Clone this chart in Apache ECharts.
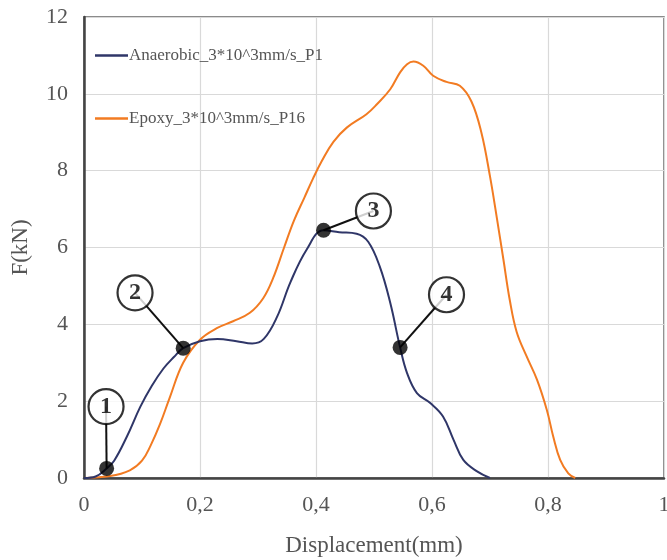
<!DOCTYPE html>
<html>
<head>
<meta charset="utf-8">
<script src="https://cdn.jsdelivr.net/npm/echarts@6/dist/echarts.min.js"></script>
<style>html,body{margin:0;padding:0;background:#fff;}#c{width:667px;height:560px;}</style>
</head>
<body>
<div id="c"></div>
<script>
const seriesNames = ['Anaerobic_3*10^3mm/s_P1', 'Epoxy_3*10^3mm/s_P16'];
const anaerobic = [[0,0],[0.02,0.04],[0.039,0.25],[0.052,0.45],[0.074,1.08],[0.097,1.85],[0.117,2.4],[0.137,2.85],[0.155,3.15],[0.171,3.38],[0.2,3.56],[0.23,3.62],[0.263,3.56],[0.29,3.5],[0.31,3.62],[0.333,4.2],[0.356,5.1],[0.384,5.95],[0.413,6.45],[0.44,6.4],[0.47,6.36],[0.49,6.15],[0.51,5.5],[0.528,4.56],[0.545,3.4],[0.557,2.73],[0.574,2.21],[0.597,1.95],[0.619,1.6],[0.637,1.0],[0.654,0.47],[0.677,0.18],[0.7,0.0]];
const epoxy = [[0,0],[0.045,0.05],[0.079,0.2],[0.1,0.45],[0.115,0.85],[0.131,1.4],[0.148,2.1],[0.171,3.0],[0.2,3.6],[0.229,3.9],[0.257,4.08],[0.286,4.3],[0.309,4.68],[0.326,5.2],[0.345,6.0],[0.362,6.7],[0.38,7.3],[0.395,7.8],[0.41,8.25],[0.43,8.75],[0.453,9.12],[0.487,9.47],[0.505,9.73],[0.528,10.12],[0.545,10.56],[0.557,10.77],[0.568,10.84],[0.585,10.73],[0.602,10.47],[0.625,10.31],[0.648,10.21],[0.668,9.8],[0.685,9.0],[0.7,7.85],[0.712,6.75],[0.723,5.7],[0.734,4.64],[0.746,3.8],[0.763,3.17],[0.781,2.56],[0.798,1.77],[0.809,1.08],[0.821,0.47],[0.835,0.12],[0.847,0.0]];
const markerLabels = ['1','2','3','4'];
const markerPoints = [[0.039,0.25],[0.171,3.38],[0.413,6.45],[0.545,3.4]];
const markerCircles = [[0.038,1.86],[0.088,4.82],[0.499,6.95],[0.625,4.77]];
const xTicks = [0,0.2,0.4,0.6,0.8,1];
const yTicks = [0,2,4,6,8,10,12];

const FONT = 'Liberation Serif';
const series = [
  {name: seriesNames[0], type:'line', data: anaerobic, smooth:0.4, symbol:'none', z:3,
   lineStyle:{color:'#2f3668', width:2}, itemStyle:{color:'#2f3668'}},
  {name: seriesNames[1], type:'line', data: epoxy, smooth:0.4, symbol:'none', z:2,
   lineStyle:{color:'#f27b22', width:2}, itemStyle:{color:'#f27b22'}}
];
markerPoints.forEach((p,i)=>{
  series.push({type:'line', data:[p, markerCircles[i]], symbol:'none', silent:true, z:4,
    lineStyle:{color:'#111', width:2}});
});
series.push({type:'scatter', data: markerPoints, symbol:'circle', symbolSize:15, z:6,
  itemStyle:{color:'#000'}, silent:true});
series.push({type:'scatter', z:7, silent:true,
  data: markerCircles.map((c,i)=>({value:c, label:{formatter: markerLabels[i]}})),
  symbol:'circle', symbolSize:35,
  itemStyle:{color:'#fff', borderColor:'#000', borderWidth:2.2},
  label:{show:true, position:'inside', color:'#000', fontFamily:FONT, fontWeight:'bold', fontSize:24}});

const chart = echarts.init(document.getElementById('c'), null, {renderer:'canvas'});
chart.setOption({
  backgroundColor:'#fff',
  animation:false,
  grid:{left:84, right:3, top:17, bottom:82, show:true, borderColor:'#666', borderWidth:1.5,
    containLabel:false, outerBoundsMode:'none'},
  legend:{data: seriesNames.map(n=>({name:n, icon:'rect'})), orient:'vertical', left:90, top:42, itemGap:46, itemWidth:33, itemHeight:2.5,
    textStyle:{fontFamily:FONT, fontSize:17, color:'#555', padding:[0,0,0,-4]}},
  xAxis:{type:'value', min:xTicks[0], max:xTicks[xTicks.length-1], interval:0.2,
    name:'Displacement(mm)', nameLocation:'middle', nameGap:56,
    nameTextStyle:{fontFamily:FONT, fontSize:23, color:'#555'},
    axisLine:{show:true, lineStyle:{color:'#444', width:2.5}}, axisTick:{show:false},
    axisLabel:{fontFamily:FONT, fontSize:22, color:'#555', margin:16,
      formatter:v=>String(+v.toFixed(1)).replace('.',',')},
    splitLine:{show:true, lineStyle:{color:'#d9d9d9', width:1.2}}},
  yAxis:{type:'value', min:yTicks[0], max:yTicks[yTicks.length-1], interval:2,
    name:'F(kN)', nameLocation:'middle', nameGap:52,
    nameTextStyle:{fontFamily:FONT, fontSize:23, color:'#555'},
    axisLine:{show:true, lineStyle:{color:'#444', width:2.5}}, axisTick:{show:false},
    axisLabel:{fontFamily:FONT, fontSize:22, color:'#555', margin:16},
    splitLine:{show:true, lineStyle:{color:'#d9d9d9', width:1.2}}},
  series: series
});
</script>
</body>
</html>
